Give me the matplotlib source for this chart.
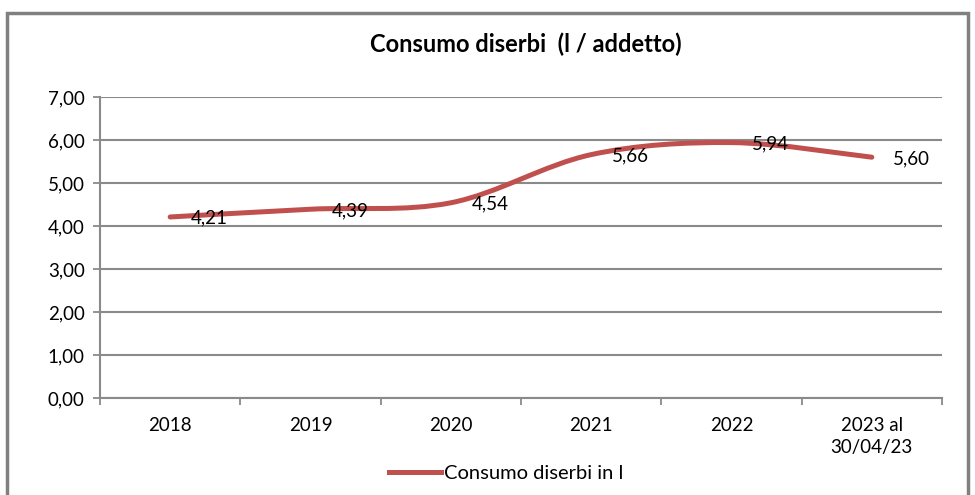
import numpy as np
import matplotlib
matplotlib.use('Agg')
import matplotlib.pyplot as plt
from matplotlib.path import Path
from matplotlib.patches import PathPatch, Rectangle
from matplotlib.lines import Line2D

plt.rcParams['font.family'] = ['Lato', 'DejaVu Sans']

categories = ['2018', '2019', '2020', '2021', '2022', '2023 al\n30/04/23']
values = [4.21, 4.39, 4.54, 5.66, 5.94, 5.60]
value_labels = ['4,21', '4,39', '4,54', '5,66', '5,94', '5,60']
y_ticks = [0, 1, 2, 3, 4, 5, 6, 7]
y_tick_labels = ['0,00', '1,00', '2,00', '3,00', '4,00', '5,00', '6,00', '7,00']
series_name = 'Consumo diserbi in l'
title = 'Consumo diserbi  (l / addetto)'

red = '#C0504D'
grid_col = '#8A8A8A'

W, H = 975, 495
fig = plt.figure(figsize=(W / 100, H / 100), dpi=100)
ax = fig.add_axes([100 / W, 1 - 398 / H, (942 - 100) / W, (398 - 97) / H])

# outer chart frame
fig.patches.append(Rectangle((7 / W, -0.05), (968 - 7) / W, (1 - 13 / H) + 0.05,
                             transform=fig.transFigure, fill=False,
                             edgecolor='#808080', linewidth=2.5))

x = np.arange(len(values))
ax.set_xlim(-0.5, len(values) - 0.5)
ax.set_ylim(0, 7)

# smoothed line (Catmull-Rom through the data points)
pts = np.column_stack([x, values]).astype(float)
verts = [tuple(pts[0])]
codes = [Path.MOVETO]
n = len(pts)
for i in range(n - 1):
    p0 = pts[max(i - 1, 0)]
    p1 = pts[i]
    p2 = pts[i + 1]
    p3 = pts[min(i + 2, n - 1)]
    c1 = p1 + (p2 - p0) / 6.0
    c2 = p2 - (p3 - p1) / 6.0
    verts += [tuple(c1), tuple(c2), tuple(p2)]
    codes += [Path.CURVE4] * 3
ax.add_patch(PathPatch(Path(verts, codes), fill=False, edgecolor=red,
                       linewidth=3.6, capstyle='round', zorder=3))

for xi, v, lab in zip(x, values, value_labels):
    ax.annotate(lab, (xi, v), xytext=(15, -1), textcoords='offset points',
                ha='left', va='center', fontsize=13.5, color='black', zorder=4)

ax.set_yticks(y_ticks)
ax.set_yticklabels(y_tick_labels, fontsize=13.5)
ax.set_xticks(x)
ax.set_xticklabels(categories, fontsize=13.5, linespacing=1.3)
ax.set_xticks(np.arange(-0.5, len(values), 1), minor=True)
ax.tick_params(axis='x', which='major', length=0, pad=14)
ax.tick_params(axis='x', which='minor', length=5, color=grid_col, width=1.3)
ax.tick_params(axis='y', length=5, color=grid_col, width=1.3, pad=6)

ax.yaxis.grid(True, color=grid_col, linewidth=1.5)
ax.set_axisbelow(True)
for s in ['top', 'right']:
    ax.spines[s].set_visible(False)
for s in ['left', 'bottom']:
    ax.spines[s].set_color(grid_col)
    ax.spines[s].set_linewidth(1.5)

fig.text(526 / W, 1 - 44 / H, title, ha='center', va='center',
         fontsize=17, fontweight='bold')

handle = Line2D([], [], color=red, linewidth=3.6)
fig.legend([handle], [series_name], loc='center', bbox_to_anchor=(506 / W, 1 - 473 / H),
           frameon=False, fontsize=14.5, handlelength=2.6, handletextpad=0.1)

fig.savefig('out.png', dpi=100)
